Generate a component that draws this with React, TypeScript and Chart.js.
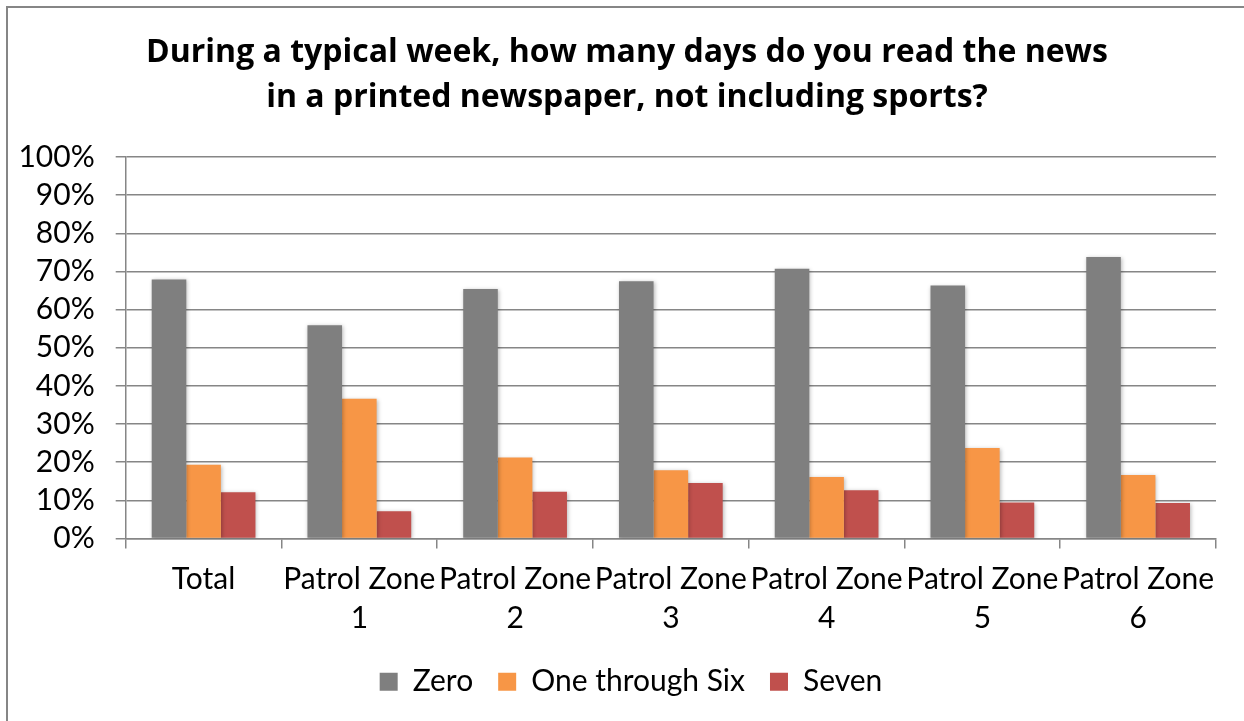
import React, { useEffect, useRef } from 'react';
import { Chart, registerables } from 'chart.js';

Chart.register(...registerables);

const titleLines = [
  'During a typical week, how many days do you read the news',
  'in a printed newspaper, not including sports?',
];

const categories: (string | string[])[] = [
  'Total',
  ['Patrol Zone', '1'],
  ['Patrol Zone', '2'],
  ['Patrol Zone', '3'],
  ['Patrol Zone', '4'],
  ['Patrol Zone', '5'],
  ['Patrol Zone', '6'],
];

const zeroValues = [67.9, 55.9, 65.4, 67.4, 70.7, 66.3, 73.8];
const oneToSixValues = [19.3, 36.6, 21.2, 17.9, 16.1, 23.7, 16.6];
const sevenValues = [12.1, 7.1, 12.2, 14.5, 12.6, 9.4, 9.3];

const seriesNames = ['Zero', 'One through Six', 'Seven'];
const seriesColors = ['#7f7f7f', '#f79646', '#c0504d'];

const yMin = 0;
const yMax = 100;
const yStep = 10;

const FONT = 'Lato, "Open Sans", "Noto Sans", sans-serif';
const TITLE_FONT = '"Open Sans", Lato, "Noto Sans", sans-serif';
const GRID = '#868686';

const borderPlugin = {
  id: 'outerBorder',
  beforeDraw(chart: any) {
    const c = chart.ctx;
    c.save();
    c.fillStyle = '#ffffff';
    c.fillRect(0, 0, chart.width, chart.height);
    c.strokeStyle = '#868686';
    c.lineWidth = 2;
    c.strokeRect(7, 7, chart.width + 50, chart.height + 50);
    c.restore();
  },
};

// Excel centres title and legend on the whole chart box; nudge them to match
const centerPlugin = {
  id: 'centerBoxes',
  afterLayout(chart: any) {
    const t = chart.titleBlock;
    if (t) {
      t.left += 19;
      t.right += 19;
    }
    const l = chart.legend;
    if (l) {
      l.left += 23;
      l.right += 23;
    }
  },
};

const shadowPlugin = {
  id: 'barShadow',
  beforeDatasetsDraw(chart: any) {
    const c = chart.ctx;
    c.save();
    c.shadowColor = 'rgba(0,0,0,0.28)';
    c.shadowBlur = 4;
    c.shadowOffsetX = 1;
    c.shadowOffsetY = 1;
  },
  afterDatasetsDraw(chart: any) {
    chart.ctx.restore();
  },
};

export default function App() {
  const ref = useRef<HTMLCanvasElement>(null);

  useEffect(() => {
    const canvas = ref.current!;
    const seriesValues = [zeroValues, oneToSixValues, sevenValues];
    const chart = new Chart(canvas, {
      type: 'bar',
      data: {
        labels: categories as any,
        datasets: seriesNames.map((name, i) => ({
          label: name,
          data: seriesValues[i],
          backgroundColor: seriesColors[i],
          borderWidth: 0,
          categoryPercentage: 0.666,
          barPercentage: 1,
        })),
      },
      options: {
        responsive: false,
        animation: false,
        devicePixelRatio: 1,
        layout: { padding: { left: 0, right: 28, top: 0, bottom: 14.3 } },
        scales: {
          x: {
            offset: true,
            grid: {
              display: true,
              drawOnChartArea: false,
              drawTicks: true,
              tickLength: 10,
              color: GRID,
              lineWidth: 1.5,
              offset: true,
            },
            border: { display: true, color: GRID, width: 1.5 },
            ticks: {
              font: { family: FONT, size: 30, lineHeight: 1.3 },
              color: '#000000',
              padding: 11,
              maxRotation: 0,
              minRotation: 0,
              autoSkip: false,
            },
            afterFit: (s: any) => {
              s.height = 103.3;
            },
          },
          y: {
            min: yMin,
            max: yMax,
            ticks: {
              stepSize: yStep,
              autoSkip: false,
              callback: (v: any) => v + '%',
              font: { family: FONT, size: 30 },
              color: '#000000',
              padding: 21,
            },
            grid: { color: GRID, lineWidth: 1.5, tickLength: 10 },
            border: { display: true, color: GRID, width: 1.5 },
            afterFit: (s: any) => {
              s.width = 125.7;
            },
          },
        },
        plugins: {
          title: {
            display: true,
            text: titleLines,
            font: { family: TITLE_FONT, size: 32, weight: 'bold', lineHeight: 45 / 32 },
            color: '#000000',
            padding: { top: 30.5, bottom: 36.5 },
          },
          legend: {
            position: 'bottom',
            labels: {
              boxWidth: 18,
              boxHeight: 18,
              padding: 25,
              font: { family: FONT, size: 30 },
              color: '#000000',
            },
          },
          tooltip: { enabled: false },
        },
      } as any,
      plugins: [borderPlugin, centerPlugin, shadowPlugin],
    });
    return () => chart.destroy();
  }, []);

  return (
    <div style={{ position: 'absolute', left: 0, top: 0, width: 1244, height: 721, background: '#fff' }}>
      <canvas ref={ref} width={1244} height={721} style={{ display: 'block' }} />
    </div>
  );
}
